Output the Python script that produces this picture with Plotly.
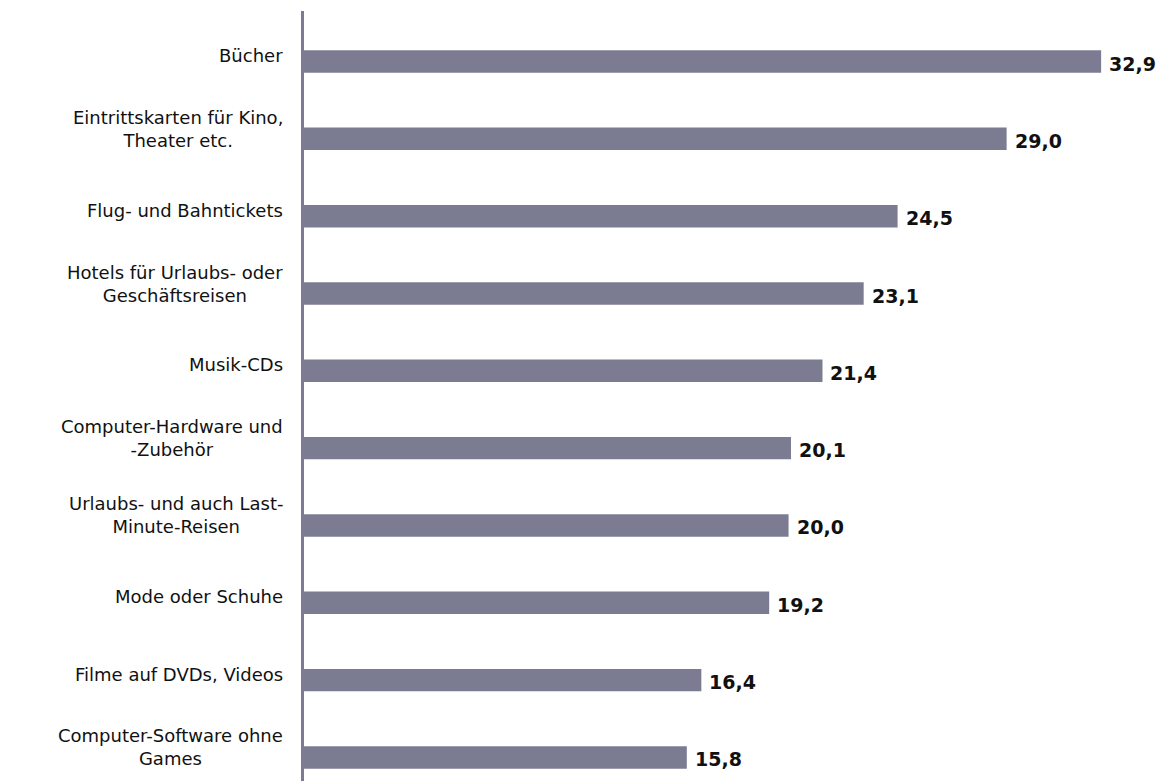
import plotly.graph_objects as go

# Online-Käufe nach Produktgruppe (Anteil in %)
categories = [
    "Bücher",
    "Eintrittskarten für Kino,<br>Theater etc.",
    "Flug- und Bahntickets",
    "Hotels für Urlaubs- oder<br>Geschäftsreisen",
    "Musik-CDs",
    "Computer-Hardware und<br>-Zubehör",
    "Urlaubs- und auch Last-<br>Minute-Reisen",
    "Mode oder Schuhe",
    "Filme auf DVDs, Videos",
    "Computer-Software ohne<br>Games",
]
values = [32.9, 29.0, 24.5, 23.1, 21.4, 20.1, 20.0, 19.2, 16.4, 15.8]

BAR_COLOR = "rgb(123,124,146)"
positions = list(range(len(categories)))

fig = go.Figure(
    go.Bar(
        x=values,
        y=positions,
        orientation="h",
        marker=dict(color=BAR_COLOR, line=dict(width=0)),
        width=0.29,
        hoverinfo="skip",
    )
)

annotations = []
for pos, cat, val in zip(positions, categories, values):
    lines = cat.count("<br>") + 1
    annotations.append(dict(
        x=0, xref="paper", xanchor="right", xshift=-19,
        y=pos, yref="y", yanchor="middle", yshift=6 if lines == 1 else 10,
        text=cat, align="center", showarrow=False,
        font=dict(family="DejaVu Sans", size=18, color="#111111"),
    ))
    annotations.append(dict(
        x=val, xref="x", xanchor="left", xshift=6,
        y=pos, yref="y", yanchor="middle", yshift=-2,
        text=f"{val:.1f}".replace(".", ","), showarrow=False,
        font=dict(family="DejaVu Sans", size=19, color="#111111", weight="bold"),
    ))

fig.update_layout(
    width=1167,
    height=781,
    margin=dict(l=304, r=15, t=11, b=0),
    paper_bgcolor="white",
    plot_bgcolor="white",
    showlegend=False,
    annotations=annotations,
    xaxis=dict(range=[0, 35], visible=False, fixedrange=True),
    yaxis=dict(
        range=[9.304, -0.653],
        showticklabels=False,
        showgrid=False,
        zeroline=False,
        showline=True,
        linecolor=BAR_COLOR,
        linewidth=3,
        ticks="",
        fixedrange=True,
    ),
)

fig.write_html("out.html")
